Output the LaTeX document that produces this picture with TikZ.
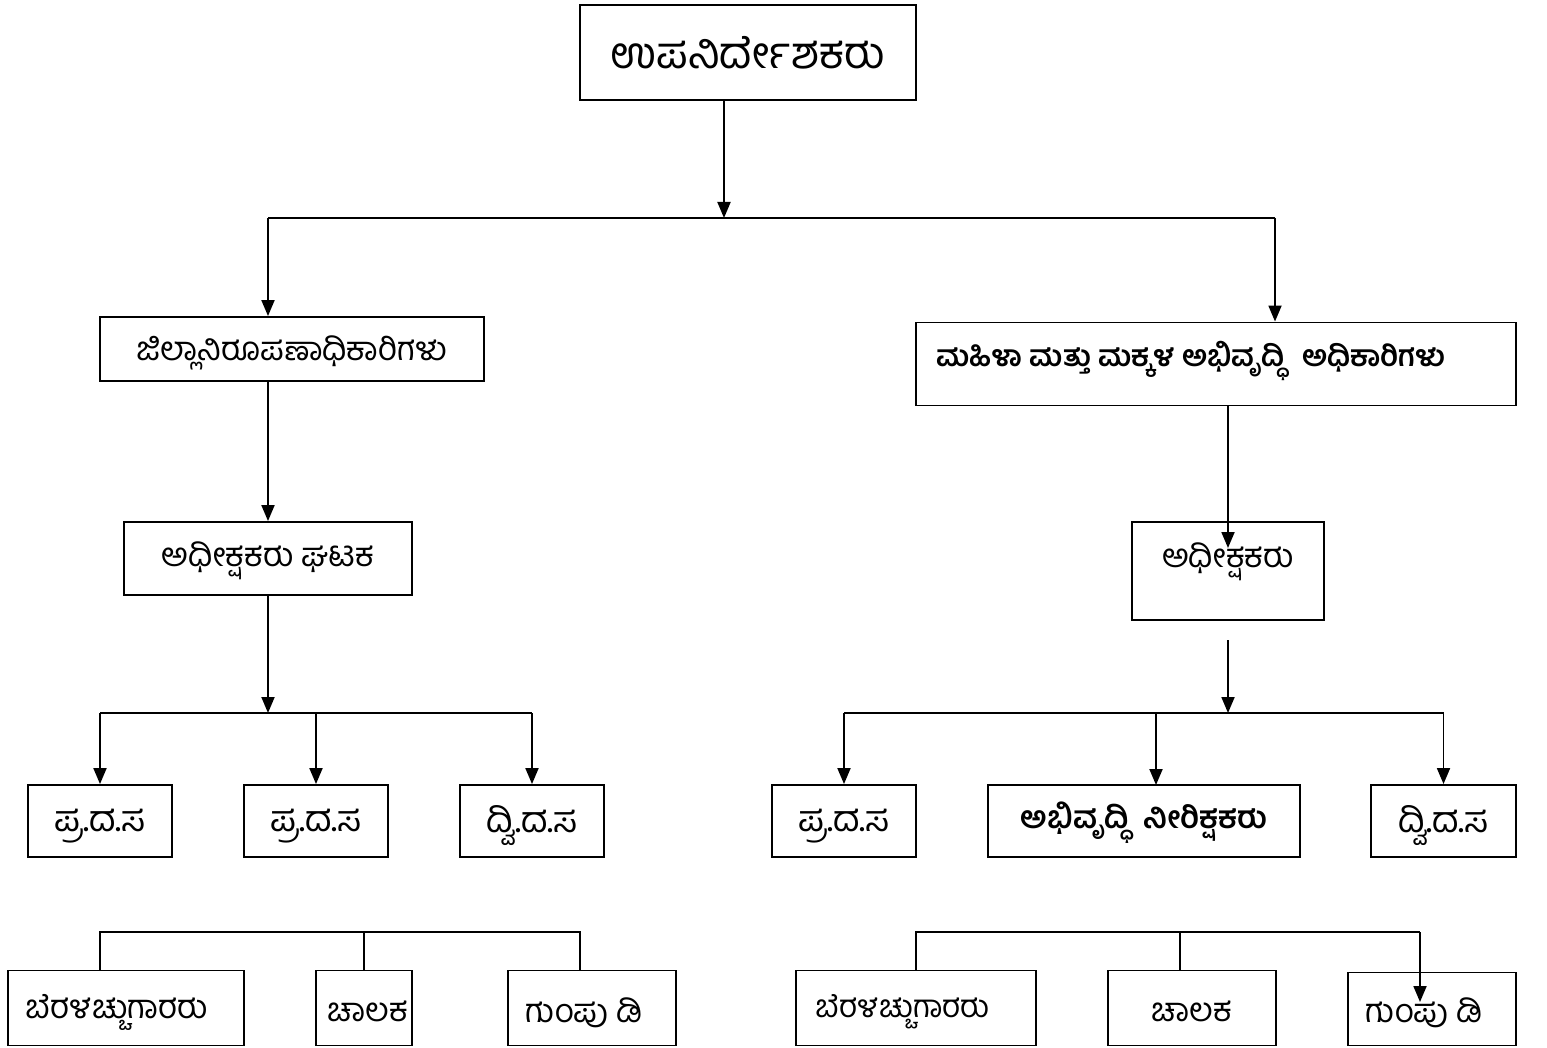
\documentclass[tikz,border=0pt]{standalone}
\usepackage{fontspec}
\newfontfamily\kn[Script=Kannada]{Hind Mysuru}
\usetikzlibrary{arrows.meta}
\begin{document}
\begin{tikzpicture}[x=1pt,y=-1pt,
  box/.style={draw, line width=1.9pt, rectangle, inner sep=0pt, font=\kn},
  ln/.style={line width=1.9pt},
  arr/.style={line width=1.9pt, -{Triangle[length=16pt,width=13pt]}},
  fA/.style={font=\kn\fontsize{44}{48}\selectfont},
  fB/.style={font=\kn\fontsize{33}{36}\selectfont},
  fC/.style={font=\kn\bfseries\fontsize{29.4}{34}\selectfont},
  fC2/.style={font=\kn\bfseries\fontsize{31}{34}\selectfont},
  fD/.style={font=\kn\fontsize{36}{40}\selectfont},
  fE/.style={font=\kn\fontsize{33}{36}\selectfont},
  fE2/.style={font=\kn\fontsize{31.5}{36}\selectfont},
]
\useasboundingbox (0,0) rectangle (1547,1048);
\fill[white] (0,0) rectangle (1547,1048);
% level 1
\node[box, fA, minimum width=336pt, minimum height=95pt] (top) at (748,52.5) {ಉಪನಿರ್ದೇಶಕರು};
% level 2
\node[box, minimum width=384pt, minimum height=64pt] (jil) at (292,349) {};
\node[fB, inner sep=0pt] (jilt) at (292,353) {ಜಿಲ್ಲಾನಿರೂಪಣಾಧಿಕಾರಿಗಳು};
\node[box, minimum width=600pt, minimum height=83pt] (mw) at (1216,364) {};
\node[fC, anchor=west, inner sep=0pt] (mwt) at (936,361) {ಮಹಿಳಾ ಮತ್ತು ಮಕ್ಕಳ ಅಭಿವೃದ್ಧಿ\hspace{0.6em}ಅಧಿಕಾರಿಗಳು};
% level 3
\node[box, minimum width=288pt, minimum height=73pt] (agh) at (268,558.5) {};
\node[fB, inner sep=0pt] (aght) at (268,561) {ಅಧೀಕ್ಷಕರು ಘಟಕ};
\node[box, minimum width=192pt, minimum height=98pt] (adh) at (1228,571) {};
\node[fB, inner sep=0pt] (adht) at (1228,562) {ಅಧೀಕ್ಷಕರು};
% level 4 left
\node[box, minimum width=144pt, minimum height=72pt] (l1) at (100,821) {};
\node[box, minimum width=144pt, minimum height=72pt] (l2) at (316,821) {};
\node[box, minimum width=144pt, minimum height=72pt] (l3) at (532,821) {};
\node[fD, inner sep=0pt] (l1t) at (100,826) {ಪ್ರ.ದ.ಸ};
\node[fD, inner sep=0pt] (l2t) at (316,826) {ಪ್ರ.ದ.ಸ};
\node[fD, inner sep=0pt] (l3t) at (532,826) {ದ್ವಿ.ದ.ಸ};
% level 4 right
\node[box, minimum width=144pt, minimum height=72pt] (r1) at (844,821) {};
\node[box, minimum width=312pt, minimum height=72pt] (r2) at (1144,821) {};
\node[box, minimum width=145pt, minimum height=72pt] (r3) at (1443.5,821) {};
\node[fD, inner sep=0pt] (r1t) at (844,826) {ಪ್ರ.ದ.ಸ};
\node[fC2, inner sep=0pt] (r2t) at (1144,823) {ಅಭಿವೃದ್ಧಿ\hspace{0.5em}ನೀರಿಕ್ಷಕರು};
\node[fD, inner sep=0pt] (r3t) at (1443.5,826) {ದ್ವಿ.ದ.ಸ};
% level 5 left
\node[box, minimum width=236pt, minimum height=75pt] (b1) at (126,1008) {};
\node[box, minimum width=96pt, minimum height=75pt] (b2) at (364,1008) {};
\node[box, minimum width=168pt, minimum height=75pt] (b3) at (592,1008) {};
\node[fE, inner sep=0pt] (b1t) at (117,1012) {ಬೆರಳಚ್ಚುಗಾರರು};
\node[fE, inner sep=0pt] (b2t) at (368,1011) {ಚಾಲಕ};
\node[fE, inner sep=0pt] (b3t) at (584,1013) {ಗುಂಪು ಡಿ};
% level 5 right
\node[box, minimum width=240pt, minimum height=75pt] (c1) at (916,1008) {};
\node[box, minimum width=168pt, minimum height=75pt] (c2) at (1192,1008) {};
\node[box, minimum width=168pt, minimum height=73pt] (c3) at (1432,1009) {};
\node[fE2, inner sep=0pt] (c1t) at (903,1012) {ಬೆರಳಚ್ಚುಗಾರರು};
\node[fE, inner sep=0pt] (c2t) at (1192,1011) {ಚಾಲಕ};
\node[fE, inner sep=0pt] (c3t) at (1424,1013) {ಗುಂಪು ಡಿ};
% junction coordinates
\coordinate (j1) at (724,218);
\coordinate (j2) at (268,713);
\coordinate (j3) at (1228,713);
\coordinate (s3) at (1228,640);
\coordinate (j4) at (364,932);
\coordinate (j5) at (1180,932);
% connectors
\draw[arr] (top.south -| j1) -- (j1);
\draw[ln] (j1) -- (268,218) coordinate (jl);
\draw[ln] (j1) -- (1275,218) coordinate (jr);
\draw[arr] (jl) -- (jl |- jil.north);
\draw[arr] (jr) -- (jr |- mw.north);
\draw[arr] (jil.south -| j2) -- (j2 |- agh.north);
\draw[arr] (mw.south -| adh) -- (1228,548);
\draw[arr] (agh.south -| j2) -- (j2);
\draw[ln] (l1.north |- j2) -- (l3.north |- j2);
\draw[arr] (l1.north |- j2) -- (l1.north);
\draw[arr] (l2.north |- j2) -- (l2.north);
\draw[arr] (l3.north |- j2) -- (l3.north);
\draw[arr] (s3) -- (j3);
\draw[ln] (r1.north |- j3) -- (r3.north |- j3);
\draw[arr] (r1.north |- j3) -- (r1.north);
\draw[arr] (1156,713) -- (1156,785);
\draw[arr] (r3.north |- j3) -- (r3.north);
% bottom left tree
\draw[ln] (100,970.5) -- (100,932) -- (580,932) -- (580,970.5);
\draw[ln] (j4) -- (b2.north);
% bottom right tree
\draw[ln] (c1.north) -- (c1.north |- j5) -- (1420,932) coordinate (k3);
\draw[ln] (j5) -- (j5 |- c2.north);
\draw[arr] (k3) -- (1420,1002);
\end{tikzpicture}
\end{document}
